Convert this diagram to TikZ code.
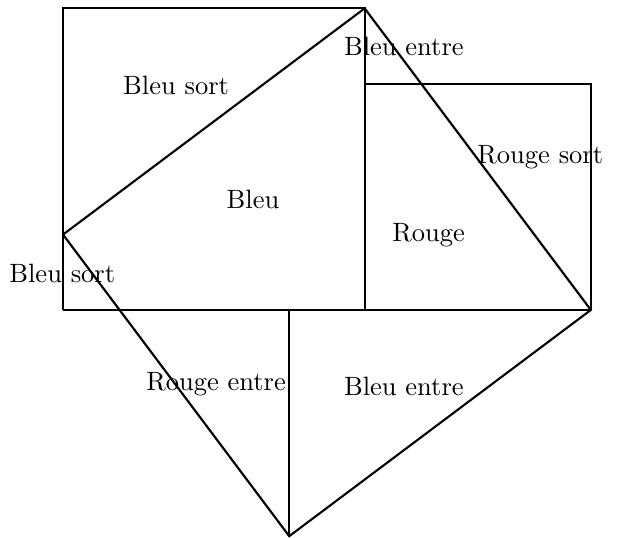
\documentclass[tikz,border=0pt]{standalone}
\begin{document}
\begin{tikzpicture}[x=1cm,y=1cm,line join=miter,
  edge/.style={draw=black,thick},
  lbl/.style={inner sep=1pt,font=\normalsize}]
\useasboundingbox (-0.836,-3.011) rectangle (7.36,4.111);
% points
\coordinate (O) at (0,0);
\coordinate (TL) at (0,4);
\coordinate (T) at (4,4);
\coordinate (A) at (0,1);
\coordinate (M) at (4,0);
\coordinate (R1) at (4,3);
\coordinate (R2) at (7,3);
\coordinate (P) at (7,0);
\coordinate (C) at (3,0);
\coordinate (B) at (3,-3);
% big square
\draw[edge] (O) -- (TL) -- (T) -- (M);
% right rectangle
\draw[edge] (R1) -- (R2) -- (P);
% base line
\draw[edge] (O) -- (P);
% vertical
\draw[edge] (C) -- (B);
% slanted lines
\draw[edge] (A) -- (T) -- (P) -- (B) -- (A);
% labels
\node[lbl] (l1) at (1.5,2.98) {Bleu sort};
\node[lbl] (l2) at (2.52,1.47) {Bleu};
\node[lbl] (l3) at (4.52,3.5) {Bleu entre};
\node[lbl] (l4) at (6.33,2.02) {Rouge sort};
\node[lbl] (l5) at (4.85,0.99) {Rouge};
\node[lbl] (l6) at (-0.01,0.48) {Bleu sort};
\node[lbl] (l7) at (2.03,-0.98) {Rouge entre};
\node[lbl] (l8) at (4.52,-1.02) {Bleu entre};
\end{tikzpicture}
\end{document}
